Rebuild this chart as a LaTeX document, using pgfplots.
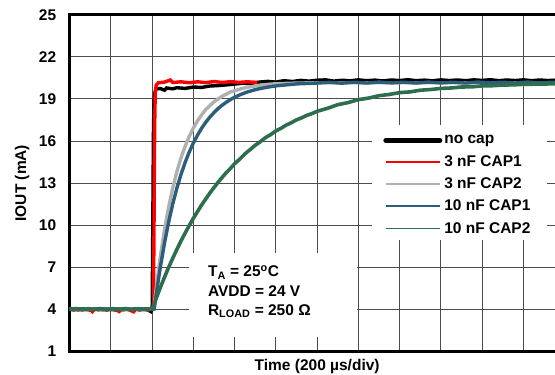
\documentclass[border=0pt]{standalone}
\usepackage{pgfplots}
\pgfplotsset{compat=1.18}
\usepackage{fontspec}
\setmainfont{Liberation Sans}
\definecolor{cgray}{RGB}{176,176,176}
\definecolor{cblue}{RGB}{44,94,124}
\definecolor{cgreen}{RGB}{44,110,78}
\definecolor{cred}{RGB}{255,0,0}
\newcommand\lbl{\fontsize{15.5}{18}\selectfont\bfseries}
\begin{document}
\begin{tikzpicture}
\begin{axis}[
  width=495pt, height=337pt, scale only axis,
  xmin=0, xmax=12, ymin=1, ymax=25,
  xtick={0,...,12}, xticklabels={},
  ytick={1,4,...,25},
  major tick length=0pt,
  grid=major,
  major grid style={black!70, line width=1pt},
  axis line style={line width=2.5pt},
  /pgf/number format/assume math mode=true,
  tick label style={font=\lbl},
  yticklabel style={xshift=-10pt},
  every axis y label/.style={at={(axis description cs:0,0.5)}, xshift=-47.7pt, rotate=90, anchor=center, font=\lbl},
  every axis x label/.style={at={(axis description cs:0.5,0)}, yshift=-19pt, anchor=base, font=\lbl},
  xlabel={Time (200 µs/div)}, ylabel={IOUT (mA)},
  legend style={at={(axis cs:7.6,16.55)}, anchor=north west, draw=none, fill=none, font=\lbl, row sep=6pt, inner sep=0pt, nodes={inner sep=2pt}},
  legend cell align=left,
  legend image code/.code={\draw[#1] (0pt,0pt) -- (54pt,0pt);},
]
\fill[white] (axis cs:7.33,8.94) rectangle (axis cs:11.58,17.14);
\fill[white] (axis cs:2.89,2.03) rectangle (axis cs:6.97,8.02);
\node[anchor=base west, inner sep=0pt, font=\lbl] at (axis cs:3.35,6.34) {T\textsubscript{A} = 25\textsuperscript{o}C};
\node[anchor=base west, inner sep=0pt, font=\lbl] at (axis cs:3.35,4.95) {AVDD = 24 V};
\node[anchor=base west, inner sep=0pt, font=\lbl] at (axis cs:3.35,3.60) {R\textsubscript{LOAD} = 250 Ω};

% no cap
\addplot[black, line width=3.4pt, forget plot] coordinates {
(0,4.02)(0.1,3.97)(0.2,4.05)(0.3,3.98)(0.4,4.03)(0.5,3.96)(0.6,4.04)(0.7,3.98)(0.8,4.03)(0.9,3.97)(1.0,4.04)(1.1,3.97)(1.2,4.03)(1.3,3.98)(1.4,4.02)(1.5,3.96)(1.6,4.03)(1.7,3.98)(1.8,4.02)(1.9,3.97)(1.97,3.85)(2.0,4.0)(2.015,10)(2.03,16.5)(2.045,18.9)(2.07,19.5)(2.1,19.72)(2.2,19.74)(2.3,19.62)(2.35,19.78)(2.5,19.72)(2.6,19.8)(2.8,19.75)(3.0,19.85)(3.2,19.82)(3.4,19.92)(3.6,19.95)(3.8,20.0)(4.0,20.06)(4.2,20.12)(4.4,20.1)(4.6,20.2)(4.8,20.25)(5.0,20.2)(5.2,20.3)(5.4,20.24)(5.6,20.32)(5.8,20.27)(6.0,20.33)(6.2,20.36)(6.4,20.27)(6.6,20.33)(6.8,20.29)(7.0,20.36)(7.2,20.3)(7.4,20.34)(7.6,20.28)(7.8,20.35)(8.0,20.31)(8.2,20.37)(8.4,20.3)(8.6,20.34)(8.8,20.29)(9.0,20.36)(9.2,20.31)(9.4,20.35)(9.6,20.3)(9.8,20.36)(10.0,20.32)(10.2,20.37)(10.4,20.3)(10.6,20.35)(10.8,20.31)(11.0,20.36)(11.2,20.3)(11.4,20.35)(11.6,20.31)(11.8,20.34)(12,20.32)
};
% 3 nF CAP1
\addplot[cred, line width=3.4pt, forget plot] coordinates {
(0,4.0)(0.1,4.05)(0.2,3.96)(0.3,4.03)(0.4,3.98)(0.5,4.02)(0.55,3.85)(0.6,4.0)(0.7,4.04)(0.8,3.97)(0.9,4.03)(1.0,3.98)(1.1,4.02)(1.2,3.86)(1.25,4.0)(1.35,4.04)(1.45,3.97)(1.55,3.84)(1.6,4.02)(1.7,3.98)(1.8,4.03)(1.9,3.97)(2.0,4.02)(2.03,4.1)(2.045,10)(2.06,17)(2.075,19.5)(2.1,20.0)(2.15,20.15)(2.3,20.2)(2.44,20.35)(2.5,20.17)(2.7,20.22)(2.9,20.15)(3.1,20.22)(3.3,20.16)(3.5,20.24)(3.7,20.17)(3.9,20.23)(4.1,20.18)(4.3,20.22)(4.55,20.18)
};
% 3 nF CAP2
\addplot[cgray, line width=3.4pt, forget plot] coordinates {
(0,4.05)(1,4.02)(2.0,4.04)(2.04,4.05)(2.1,5.54)(2.15,6.71)(2.2,7.79)(2.3,9.70)(2.4,11.31)(2.5,12.67)(2.6,13.83)(2.7,14.81)(2.8,15.63)(2.9,16.34)(3.0,16.93)(3.1,17.45)(3.2,17.86)(3.3,18.25)(3.4,18.52)(3.5,18.8)(3.6,19.0)(3.7,19.2)(3.8,19.34)(3.9,19.5)(4.0,19.58)(4.15,19.72)(4.3,19.83)(4.45,19.9)(4.6,19.97)(4.8,20.04)(5.0,20.08)(5.5,20.13)(6,20.15)(7,20.15)(8,20.15)(12,20.15)
};
% 10 nF CAP1
\addplot[cblue, line width=3.4pt, forget plot] coordinates {
(0,4.05)(1,4.03)(2.05,4.05)(2.1,5.09)(2.15,6.10)(2.2,7.05)(2.3,8.75)(2.4,10.24)(2.5,11.53)(2.6,12.65)(2.7,13.63)(2.8,14.48)(2.9,15.23)(3.0,15.87)(3.1,16.42)(3.2,16.92)(3.3,17.34)(3.4,17.71)(3.5,18.03)(3.6,18.32)(3.7,18.56)(3.8,18.77)(3.9,18.96)(4.0,19.12)(4.15,19.32)(4.3,19.49)(4.45,19.62)(4.6,19.73)(4.8,19.84)(5.0,19.93)(5.25,20.0)(5.5,20.07)(5.75,20.1)(6.0,20.13)(6.3,20.18)(6.6,20.12)(6.9,20.19)(7.2,20.13)(7.5,20.2)(7.8,20.14)(8.1,20.19)(8.4,20.13)(8.7,20.2)(9.0,20.14)(9.3,20.19)(9.6,20.13)(9.9,20.2)(10.2,20.15)(10.5,20.19)(10.8,20.13)(11.1,20.2)(11.4,20.14)(11.7,20.19)(12,20.15)
};
% 10 nF CAP2
\addplot[cgreen, line width=3.6pt, forget plot] coordinates {
(0,4.03)(0.15,4.07)(0.3,3.99)(0.45,4.06)(0.6,4.0)(0.75,4.07)(0.9,3.99)(1.05,4.06)(1.2,4.0)(1.35,4.07)(1.5,3.99)(1.65,4.06)(1.8,4.0)(1.95,4.05)(2.0,4.03)(2.1,4.81)(2.2,5.58)(2.3,6.31)(2.4,7.01)(2.5,7.66)(2.6,8.29)(2.7,8.89)(2.8,9.45)(2.9,9.99)(3.0,10.50)(3.1,10.98)(3.2,11.45)(3.3,11.88)(3.4,12.30)(3.5,12.69)(3.6,13.07)(3.7,13.42)(3.8,13.76)(3.9,14.06)(4.0,14.39)(4.12,14.7)(4.25,15.09)(4.37,15.38)(4.5,15.70)(4.62,15.95)(4.75,16.25)(4.87,16.45)(5.0,16.72)(5.12,16.9)(5.25,17.14)(5.37,17.3)(5.5,17.51)(5.62,17.65)(5.75,17.83)(5.87,17.95)(6.0,18.12)(6.25,18.33)(6.5,18.59)(6.75,18.74)(7.0,18.95)(7.25,19.06)(7.5,19.23)(7.75,19.32)(8.0,19.45)(8.25,19.5)(8.5,19.62)(8.75,19.67)(9.0,19.75)(9.25,19.78)(9.5,19.85)(9.75,19.86)(10.0,19.93)(10.25,19.94)(10.5,19.99)(10.75,20.0)(11.0,20.04)(11.5,20.06)(12,20.1)
};
\addlegendimage{black, line width=5pt, line cap=round}
\addlegendentry{no cap}
\addlegendimage{cred, line width=2pt}
\addlegendentry{3 nF CAP1}
\addlegendimage{cgray, line width=2pt}
\addlegendentry{3 nF CAP2}
\addlegendimage{cblue, line width=2pt}
\addlegendentry{10 nF CAP1}
\addlegendimage{cgreen, line width=2pt}
\addlegendentry{10 nF CAP2}
\end{axis}
\pgfresetboundingbox
\path[use as bounding box] ([xshift=-69.7pt,yshift=-22.7pt]current axis.south west) rectangle ([xshift=-9.6pt,yshift=14.7pt]current axis.north east);
\end{tikzpicture}
\end{document}
